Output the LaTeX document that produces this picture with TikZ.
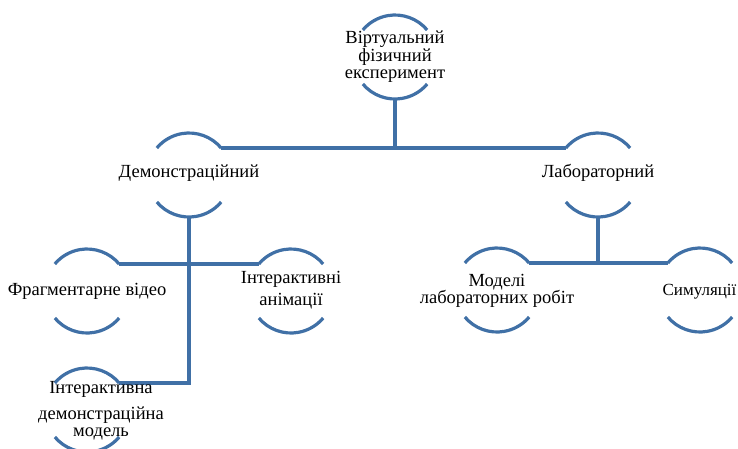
\documentclass[tikz,border=0pt]{standalone}
\usepackage{fontspec}
\setmainfont{Liberation Serif}
\definecolor{lineblue}{RGB}{64,112,166}
\begin{document}
\begin{tikzpicture}[x=1pt,y=-1pt,
  ring/.style={circle,minimum size=84pt,inner sep=0pt,outer sep=0pt},
  lbl/.style={font=\fontsize{18.5}{17.5}\selectfont,align=center,inner sep=0pt},
  conn/.style={draw=lineblue,line width=3.2pt},
  rim/.style={draw=lineblue,line width=3.2pt}]
\useasboundingbox (0,0) rectangle (738,448);
% circles
\node[ring] (top) at (395,57) {};
\node[ring] (dem) at (189,175) {};
\node[ring] (lab) at (598,175) {};
\node[ring] (fv)  at (87,291) {};
\node[ring] (ia)  at (291,291) {};
\node[ring] (idm) at (87,410) {};
\node[ring] (mlr) at (497,290) {};
\node[ring] (sim) at (700,290) {};
\foreach \n in {top,dem,lab,fv,ia,idm,mlr,sim}{
  \draw[rim] (\n.40) arc[start angle=40,end angle=140,radius=42pt];
  \draw[rim] (\n.220) arc[start angle=220,end angle=320,radius=42pt];
}
% connectors
\draw[conn] (top.south) -- (top.south |- dem.40);
\draw[conn] (dem.40) -- (lab.140);
\draw[conn] (fv.40) -- (ia.140);
\draw[conn] (dem.south) |- (idm.40);
\draw[conn] (lab.south) -- (lab.south |- mlr.40);
\draw[conn] (mlr.40) -- (sim.140);
% labels
\node[lbl] (ttop) at (395,57) {Віртуальний\\фізичний\\експеримент};
\node[lbl] (tdem) at (189,173) {Демонстраційний};
\node[lbl] (tlab) at (598,173) {Лабораторний};
\node[lbl] (tfv)  at (87,291) {Фрагментарне відео};
\node[lbl] (tia)  at (291,290) {Інтерактивні\\[4pt]анімації};
\node[lbl] (tidm) at (101,411) {Інтерактивна\\[8pt]демонстраційна\\модель};
\node[lbl] (tmlr) at (497,291) {Моделі\\лабораторних робіт};
\node[lbl,font=\fontsize{17}{17.5}\selectfont] (tsim) at (699.5,292) {Симуляції};
\end{tikzpicture}
\end{document}
